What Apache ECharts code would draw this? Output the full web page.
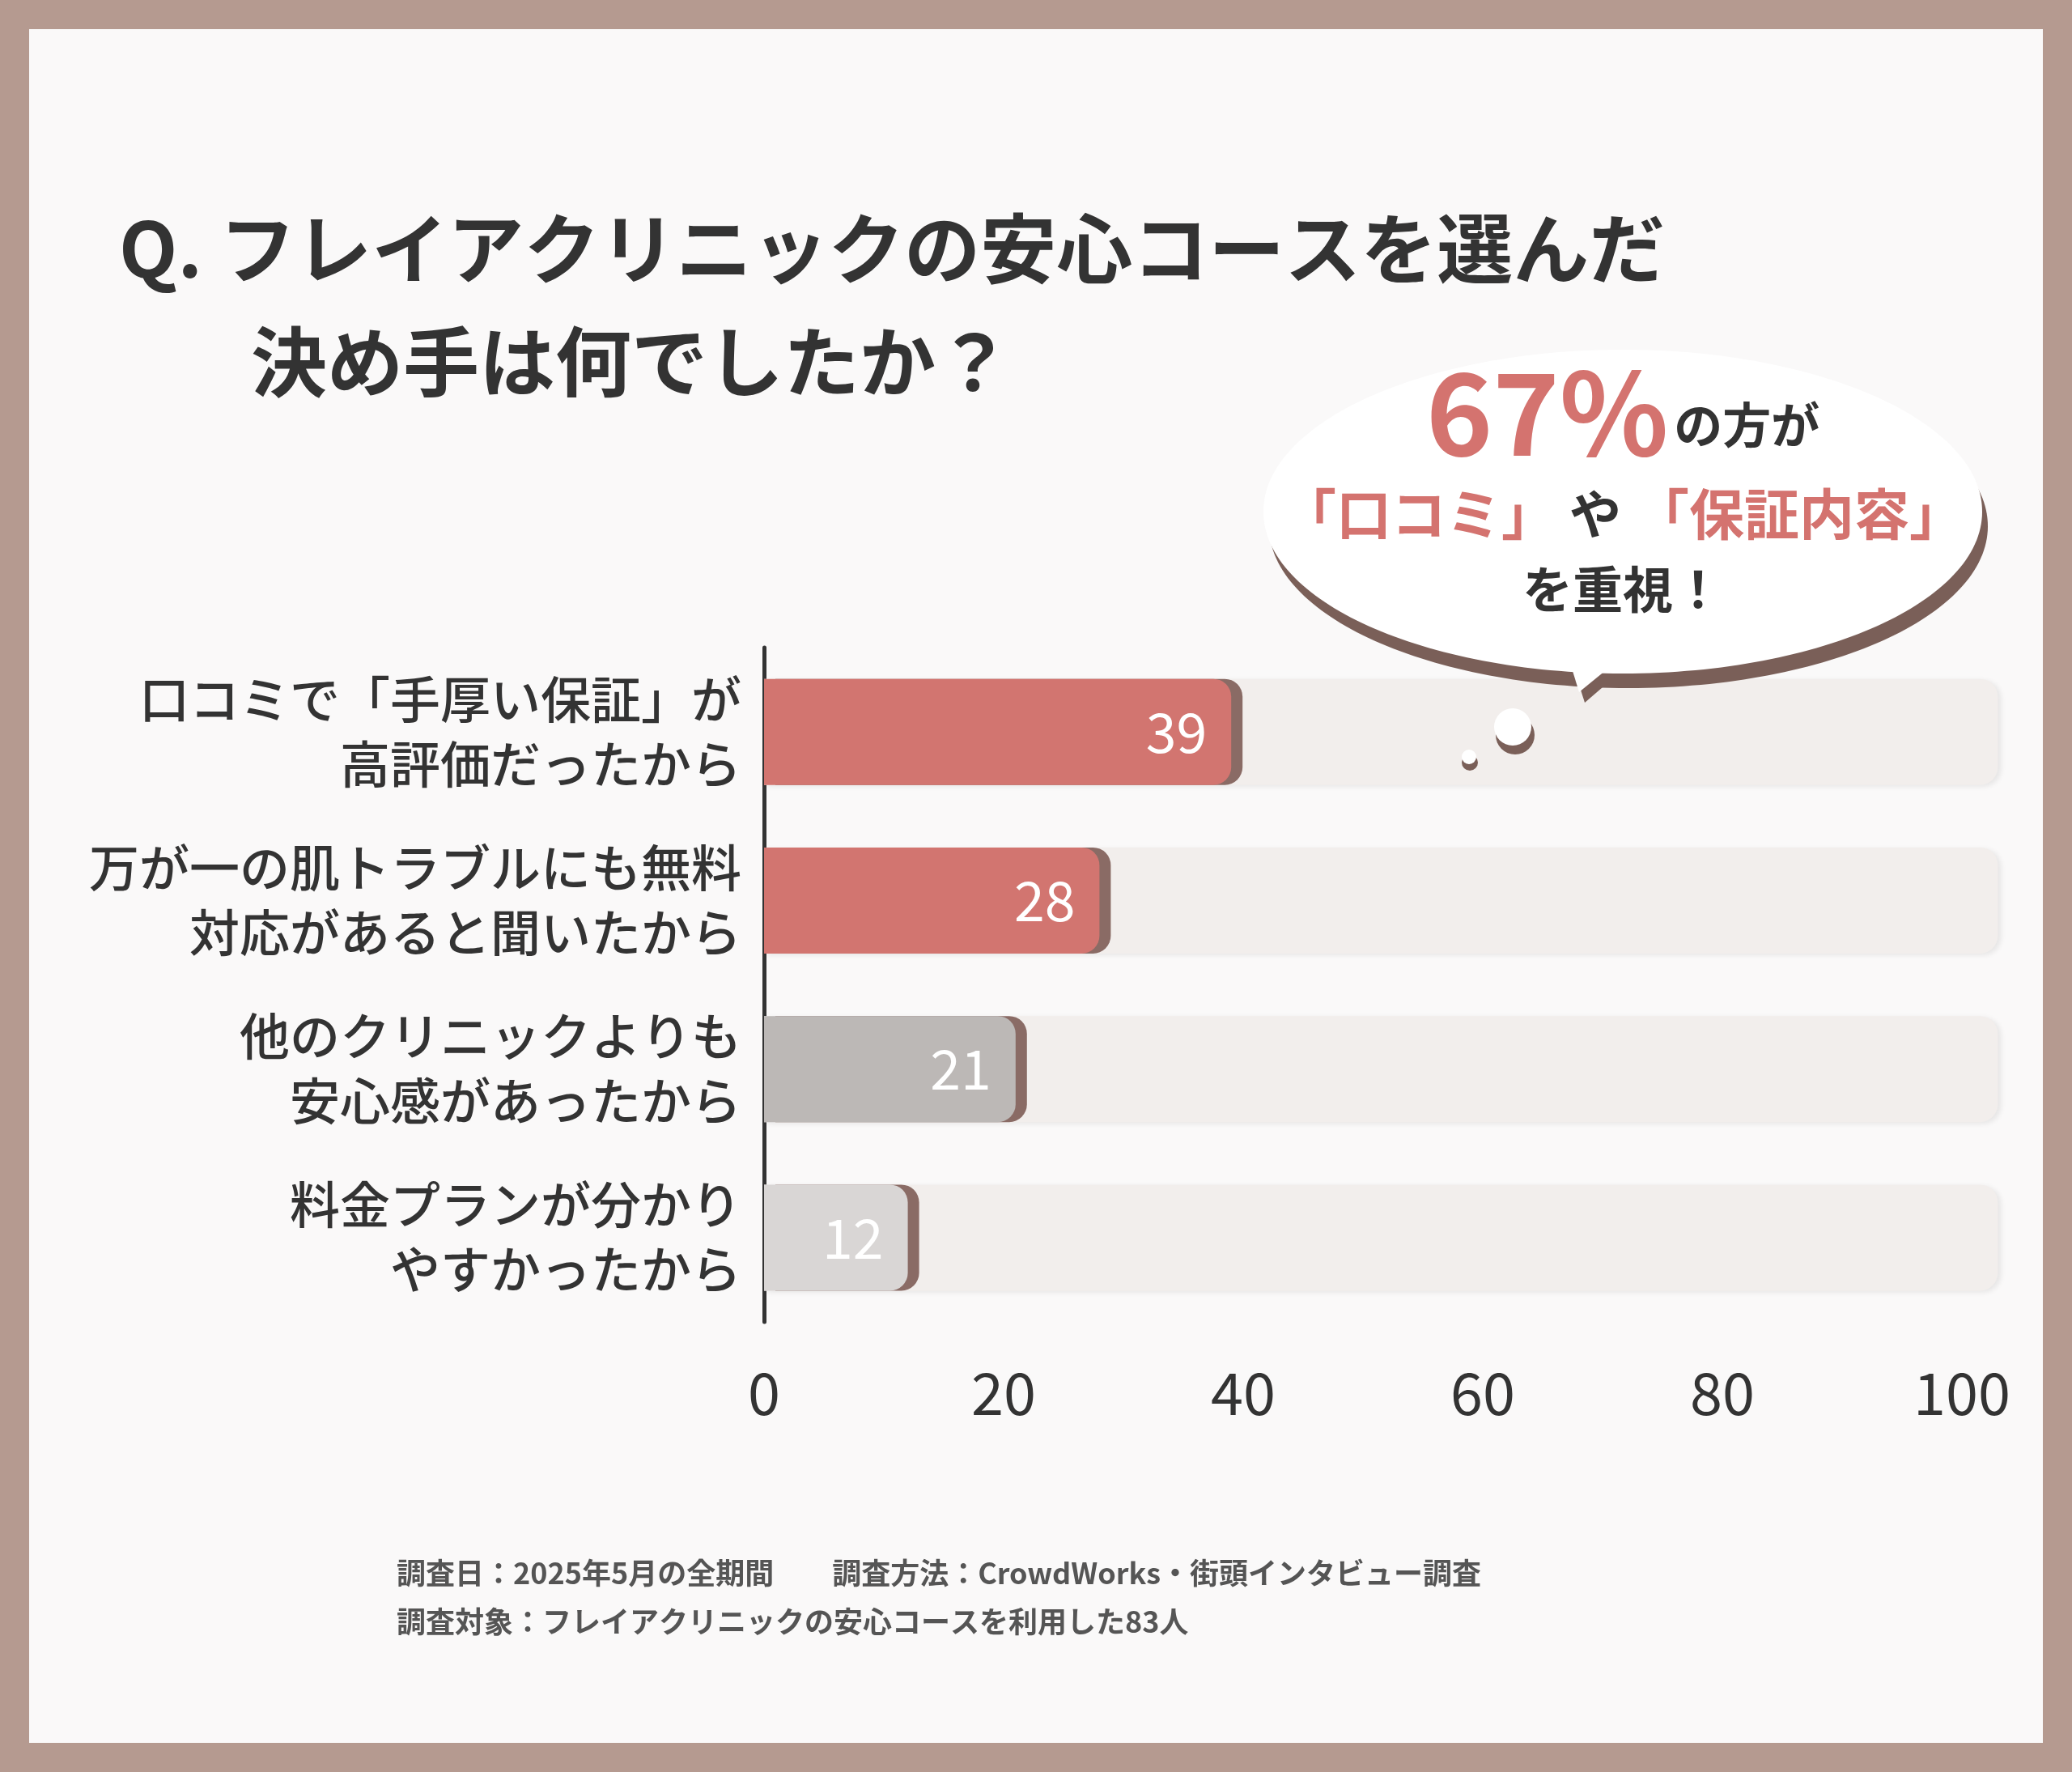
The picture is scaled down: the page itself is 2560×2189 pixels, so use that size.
<!DOCTYPE html>
<html><head><meta charset="utf-8">
<script src="https://cdn.jsdelivr.net/npm/echarts@6/dist/echarts.min.js"></script>
<style>html,body{margin:0;padding:0;background:#b59a90}#c{width:2560px;height:2189px}</style>
</head><body><div id="c"></div>
<script>
// 回答項目（上から順）
const categories = [
  '口コミで「手厚い保証」が\n高評価だったから',
  '万が一の肌トラブルにも無料\n対応があると聞いたから',
  '他のクリニックよりも\n安心感があったから',
  '料金プランが分かり\nやすかったから'
];
const counts = [39, 28, 21, 12];
const barColors = ['#d27570', '#d27570', '#bcb8b6', '#d9d6d5'];
const xTicks = [0, 20, 40, 60, 80, 100];

const font = '"Noto Sans CJK JP", sans-serif';
const chart = echarts.init(document.getElementById('c'));

const option = {
  backgroundColor: '#b59a90',
  graphic: [
    { type: 'rect', shape: { x: 36, y: 36, width: 2488, height: 2117 }, style: { fill: '#faf9f9' }, z: -10 },
    { type: 'text', left: 147, top: 260, style: { text: 'Q. フレイアクリニックの安心コースを選んだ', font: 'bold 94px ' + font, fill: '#333', letterSpacing: 31 } },
    { type: 'text', left: 310, top: 400, style: { text: '決め手は何でしたか？', font: 'bold 94px ' + font, fill: '#333', letterSpacing: 31 } },
    // 吹き出し
    { type: 'ellipse', shape: { cx: 2012, cy: 650, rx: 444, ry: 200 }, style: { fill: '#7a5f58' }, z: 5 },
    { type: 'polygon', shape: { points: [[1930, 780], [2060, 780], [1958, 868]] }, style: { fill: '#7a5f58' }, z: 5 },
    { type: 'ellipse', shape: { cx: 2005, cy: 632, rx: 444, ry: 200 }, style: { fill: '#ffffff' }, z: 6 },
    { type: 'polygon', shape: { points: [[1925, 770], [2055, 770], [1951, 855]] }, style: { fill: '#ffffff' }, z: 6 },
    { type: 'circle', shape: { cx: 1872, cy: 908, r: 24 }, style: { fill: '#7a5f58' }, z: 6 },
    { type: 'circle', shape: { cx: 1869, cy: 898, r: 23 }, style: { fill: '#ffffff' }, z: 7 },
    { type: 'circle', shape: { cx: 1816, cy: 942, r: 10 }, style: { fill: '#7a5f58' }, z: 6 },
    { type: 'circle', shape: { cx: 1815, cy: 935, r: 9 }, style: { fill: '#ffffff' }, z: 7 },
    { type: 'text', x: 2005, y: 510, z: 8, style: {
        text: '{a|67%}  {b|の方が}', align: 'center', verticalAlign: 'middle',
        rich: { a: { font: 'bold 140px ' + font, fill: '#d4736f' }, b: { font: 'bold 60px ' + font, fill: '#333', padding: [30, 0, 0, 0] } } } },
    { type: 'text', x: 2005, y: 635, z: 8, style: {
        text: '{p|「口コミ」}{b|や}{p|「保証内容」}', align: 'center', verticalAlign: 'middle',
        rich: { p: { font: 'bold 68px ' + font, fill: '#d4736f' }, b: { font: 'bold 64px ' + font, fill: '#333', padding: [0, 16] } } } },
    { type: 'text', x: 2005, y: 728, z: 8, style: { text: 'を重視！', align: 'center', verticalAlign: 'middle', font: 'bold 62px ' + font, fill: '#333', letterSpacing: 8 } },
    // 注記
    { type: 'text', left: 490, top: 1925, style: { text: '調査日：2025年5月の全期間　　調査方法：CrowdWorks・街頭インタビュー調査', font: 'bold 36px ' + font, fill: '#555' } },
    { type: 'text', left: 490, top: 1985, style: { text: '調査対象：フレイアクリニックの安心コースを利用した83人', font: 'bold 36px ' + font, fill: '#555' } }
  ],
  grid: { left: 944, right: 136, top: 800, bottom: 556, containLabel: false },
  xAxis: {
    type: 'value', min: 0, max: 100, interval: 20,
    axisLine: { show: false }, axisTick: { show: false }, splitLine: { show: false },
    axisLabel: { fontSize: 72, color: '#333', fontFamily: font, margin: 52,
      formatter: v => xTicks.includes(v) ? String(v) : '' }
  },
  yAxis: {
    type: 'category', data: categories, inverse: true,
    axisLine: { show: true, lineStyle: { color: '#333', width: 5 } }, axisTick: { show: false },
    axisLabel: { fontSize: 62, lineHeight: 80, color: '#333', fontFamily: font, fontWeight: 500, align: 'right', margin: 28 }
  },
  series: [
    {
      type: 'bar', data: categories.map(() => 103), barWidth: 131, barGap: '-100%', clip: false, silent: true,
      itemStyle: { color: '#f2eeec', borderRadius: [0, 22, 22, 0], shadowColor: 'rgba(0,0,0,0.08)', shadowBlur: 6, shadowOffsetX: 4, shadowOffsetY: 2 },
      z: 1
    },
    {
      type: 'bar', barWidth: 131,
      data: counts.map((v, i) => ({ value: v, itemStyle: { color: barColors[i] } })),
      itemStyle: { borderRadius: [0, 22, 22, 0], shadowColor: '#8a6b65', shadowOffsetX: 14, shadowBlur: 0 },
      label: { show: true, position: 'insideRight', distance: 30, color: '#fff', fontSize: 68, fontFamily: font },
      z: 3
    }
  ]
};
chart.setOption(option);
</script></body></html>
